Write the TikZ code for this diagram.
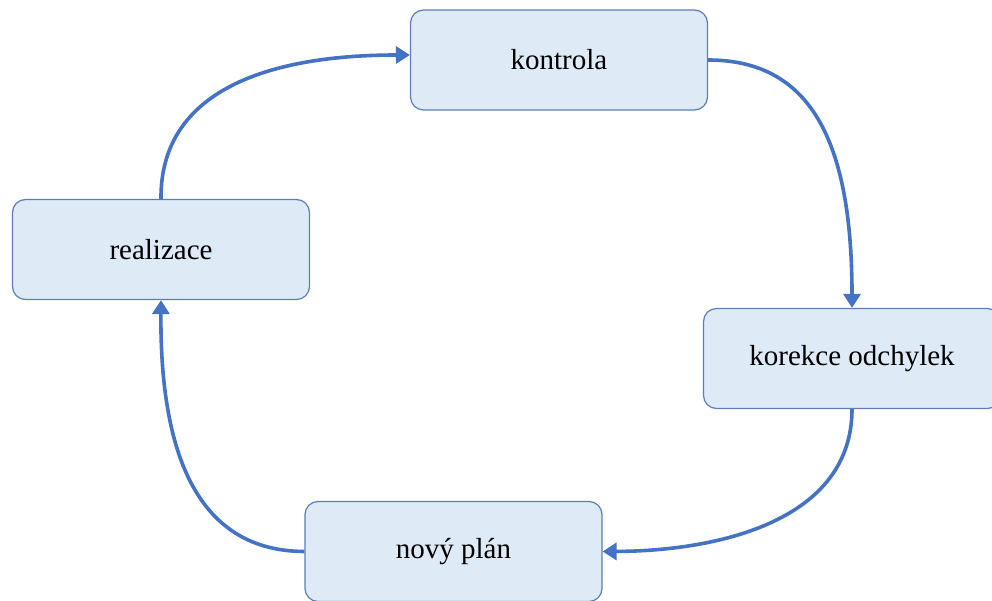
\documentclass[tikz,border=0pt]{standalone}
\usepackage{fontspec}
\setmainfont{Liberation Serif}
\usetikzlibrary{arrows.meta}
\definecolor{boxfill}{HTML}{DEEAF6}
\definecolor{boxline}{HTML}{5B7DB8}
\definecolor{flow}{HTML}{4472C4}
\tikzset{
  stage/.style={draw=boxline, line width=1.2pt, fill=boxfill, rounded corners=13pt,
    minimum width=297pt, minimum height=100pt, inner sep=0pt,
    font=\fontsize{29}{34}\selectfont, text=black},
  flowarrow/.style={draw=flow, line width=3.6pt, -{Triangle[length=14pt,width=17pt]}}
}
\begin{document}
\begin{tikzpicture}[x=1pt,y=-1pt]
  \useasboundingbox (0,0) rectangle (992,601);
  \clip (0,0) rectangle (992,601);
  % the four stages of the cycle
  \node[stage] (kontrola)  at (559,60)    {kontrola};
  \node[stage] (korekce)   at (852,358.5) {korekce odchylek};
  \node[stage] (plan)      at (453.5,551.5) {nový plán};
  \node[stage] (realizace) at (161,249.5) {realizace};
  % curved connectors going round clockwise
  \draw[flowarrow] (realizace.north) .. controls (160,95) and (260,55) .. ([yshift=5pt]kontrola.west);
  \draw[flowarrow] (kontrola.east) .. controls (810,60) and (852,140) .. (korekce.north);
  \draw[flowarrow] (korekce.south) .. controls (852,520) and (720,551) .. (plan.east);
  \draw[flowarrow] (plan.west) .. controls (190,551) and (160,440) .. (realizace.south);
\end{tikzpicture}
\end{document}
